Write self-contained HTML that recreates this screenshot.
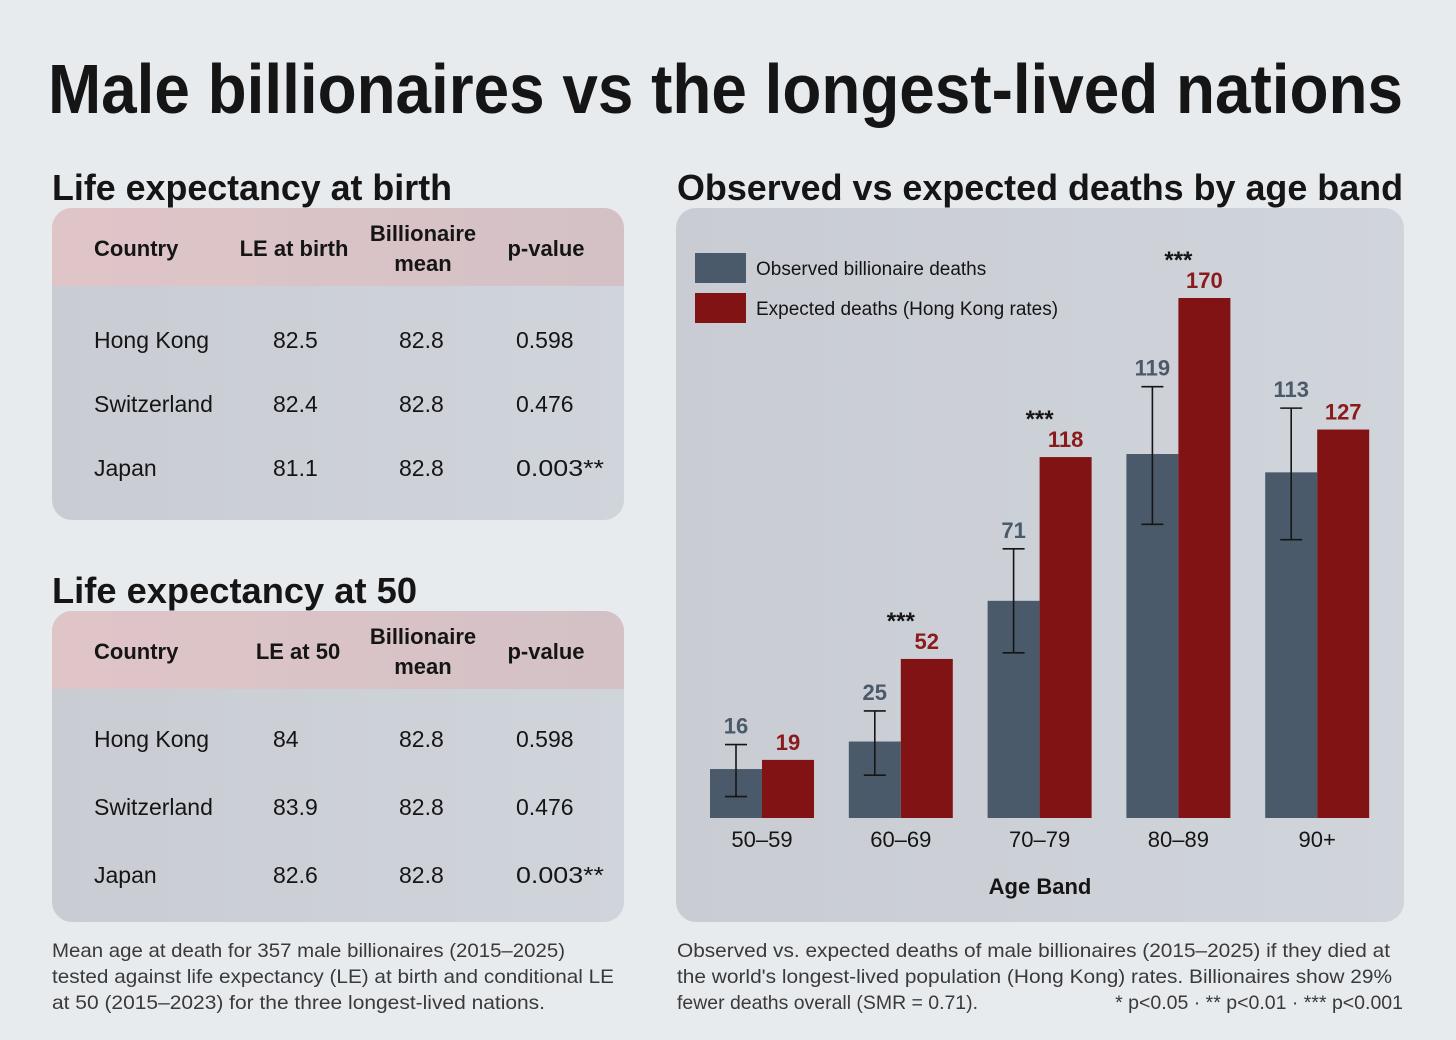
<!DOCTYPE html>
<html><head><meta charset="utf-8"><style>
body{margin:0;background:#e8ebee;}
svg{display:block;font-family:"Liberation Sans",sans-serif;}
</style></head><body>
<svg id="s" width="1456" height="1040" viewBox="0 0 1456 1040">
<defs>
<linearGradient id="hd" x1="0" x2="1"><stop offset="0" stop-color="#e0c5c8"/><stop offset="1" stop-color="#d3c1c5"/></linearGradient>
<linearGradient id="bd" x1="0" x2="1"><stop offset="0" stop-color="#c9cdd3"/><stop offset="1" stop-color="#d0d4db"/></linearGradient>
<clipPath id="c1"><rect x="52" y="208" width="572" height="312" rx="20"/></clipPath>
<clipPath id="c2"><rect x="52" y="611" width="572" height="311" rx="20"/></clipPath>
</defs>
<text x="48" y="113" font-size="70" font-weight="bold" fill="#151515" textLength="1355" lengthAdjust="spacingAndGlyphs">Male billionaires vs the longest-lived nations</text>

<text x="52" y="200" font-size="36" font-weight="bold" fill="#151515" textLength="400" lengthAdjust="spacingAndGlyphs">Life expectancy at birth</text>
<g clip-path="url(#c1)">
<rect x="52" y="208" width="572" height="312" fill="url(#bd)"/>
<rect x="52" y="208" width="572" height="78" fill="url(#hd)"/>
</g>
<g font-size="23" fill="#151515">
<g font-weight="bold" font-size="22">
<text x="94" y="256">Country</text><text x="294" y="256" text-anchor="middle">LE at birth</text>
<text x="423" y="241" text-anchor="middle">Billionaire</text><text x="423" y="271" text-anchor="middle">mean</text>
<text x="546" y="256" text-anchor="middle">p-value</text></g>
<text x="94" y="348">Hong Kong</text><text x="273" y="348">82.5</text><text x="399" y="348">82.8</text><text x="516" y="348">0.598</text>
<text x="94" y="412">Switzerland</text><text x="273" y="412">82.4</text><text x="399" y="412">82.8</text><text x="516" y="412">0.476</text>
<text x="94" y="476">Japan</text><text x="273" y="476">81.1</text><text x="399" y="476">82.8</text><text x="516" y="476" textLength="88" lengthAdjust="spacingAndGlyphs">0.003**</text>
</g>

<text x="52" y="603" font-size="36" font-weight="bold" fill="#151515" textLength="365" lengthAdjust="spacingAndGlyphs">Life expectancy at 50</text>
<g clip-path="url(#c2)">
<rect x="52" y="611" width="572" height="311" fill="url(#bd)"/>
<rect x="52" y="611" width="572" height="78" fill="url(#hd)"/>
</g>
<g font-size="23" fill="#151515">
<g font-weight="bold" font-size="22">
<text x="94" y="659">Country</text><text x="298" y="659" text-anchor="middle">LE at 50</text>
<text x="423" y="644" text-anchor="middle">Billionaire</text><text x="423" y="674" text-anchor="middle">mean</text>
<text x="546" y="659" text-anchor="middle">p-value</text></g>
<text x="94" y="747">Hong Kong</text><text x="273" y="747">84</text><text x="399" y="747">82.8</text><text x="516" y="747">0.598</text>
<text x="94" y="815">Switzerland</text><text x="273" y="815">83.9</text><text x="399" y="815">82.8</text><text x="516" y="815">0.476</text>
<text x="94" y="883">Japan</text><text x="273" y="883">82.6</text><text x="399" y="883">82.8</text><text x="516" y="883" textLength="88" lengthAdjust="spacingAndGlyphs">0.003**</text>
</g>

<g font-size="19.5" fill="#3a3a3a">
<text x="52" y="957" textLength="513" lengthAdjust="spacingAndGlyphs">Mean age at death for 357 male billionaires (2015–2025)</text>
<text x="52" y="983" textLength="562" lengthAdjust="spacingAndGlyphs">tested against life expectancy (LE) at birth and conditional LE</text>
<text x="52" y="1009" textLength="493" lengthAdjust="spacingAndGlyphs">at 50 (2015–2023) for the three longest-lived nations.</text>
</g>

<text x="677" y="200" font-size="36" font-weight="bold" fill="#151515" textLength="726" lengthAdjust="spacingAndGlyphs">Observed vs expected deaths by age band</text>
<rect x="676" y="208" width="728" height="714" rx="20" fill="url(#bd)"/>
<rect x="695" y="253" width="51" height="30" fill="#4a5a6a"/>
<text x="756" y="275" font-size="19" fill="#151515">Observed billionaire deaths</text>
<rect x="695" y="293" width="51" height="30" fill="#821315"/>
<text x="756" y="315" font-size="19" fill="#151515">Expected deaths (Hong Kong rates)</text>
<g id="chart"></g>
<text x="1040" y="894" font-size="22" font-weight="bold" text-anchor="middle" fill="#151515">Age Band</text>

<g font-size="19.5" fill="#3a3a3a">
<text x="677" y="957" textLength="713" lengthAdjust="spacingAndGlyphs">Observed vs. expected deaths of male billionaires (2015–2025) if they died at</text>
<text x="677" y="983" textLength="715" lengthAdjust="spacingAndGlyphs">the world's longest-lived population (Hong Kong) rates. Billionaires show 29%</text>
<text x="677" y="1009" textLength="301" lengthAdjust="spacingAndGlyphs">fewer deaths overall (SMR = 0.71).</text>
<text x="1403" y="1009" text-anchor="end">* p&lt;0.05 · ** p&lt;0.01 · *** p&lt;0.001</text>
</g>
</svg>
<script>
const categories=["50–59","60–69","70–79","80–89","90+"];
const observed=[16,25,71,119,113];
const expected=[19,52,118,170,127];
const errLow=[7,14,54,96,91];
const errHigh=[24,35,88,141,134];
const stars=["","***","***","***",""];
const NS="http://www.w3.org/2000/svg";
const g=document.getElementById("chart");
const base=818, scale=520/170, x0=762, step=138.8, bw=52;
const y=v=>base-v*scale;
const xc=i=>x0+i*step;
function mk(t,a,txt){const e=document.createElementNS(NS,t);for(const k in a)e.setAttribute(k,a[k]);if(txt!==undefined)e.textContent=txt;g.appendChild(e);return e;}
categories.forEach((c,i)=>{
  const cx=xc(i);
  let r=mk("rect",{x:cx-bw,y:y(observed[i]),width:bw,height:base-y(observed[i]),fill:"#4a5a6a"});
  
  
  r=mk("rect",{x:cx,y:y(expected[i]),width:bw,height:base-y(expected[i]),fill:"#821315"});
  
  
  const ex=cx-bw/2;
  const eb=mk("path",{d:`M${ex} ${y(errLow[i])}V${y(errHigh[i])}M${ex-11} ${y(errLow[i])}H${ex+11}M${ex-11} ${y(errHigh[i])}H${ex+11}`,stroke:"#151515","stroke-width":1.6,fill:"none"});
  
  
  let t=mk("text",{x:ex,y:y(errHigh[i])-11,"font-size":22,"font-weight":"bold","text-anchor":"middle",fill:"#4a5a6a"},observed[i]);
  
  
  t=mk("text",{x:cx+bw/2,y:y(expected[i])-10,"font-size":22,"font-weight":"bold","text-anchor":"middle",fill:"#8b1a1a"},expected[i]);
  
  
  if(stars[i]){t=mk("text",{x:cx,y:y(expected[i])-30,"font-size":24,"font-weight":"bold","text-anchor":"middle",fill:"#151515"},stars[i]);
  
  }
  t=mk("text",{x:cx,y:847,"font-size":22,"text-anchor":"middle",fill:"#151515"},c);
  
  
});
</script>
</body></html>
